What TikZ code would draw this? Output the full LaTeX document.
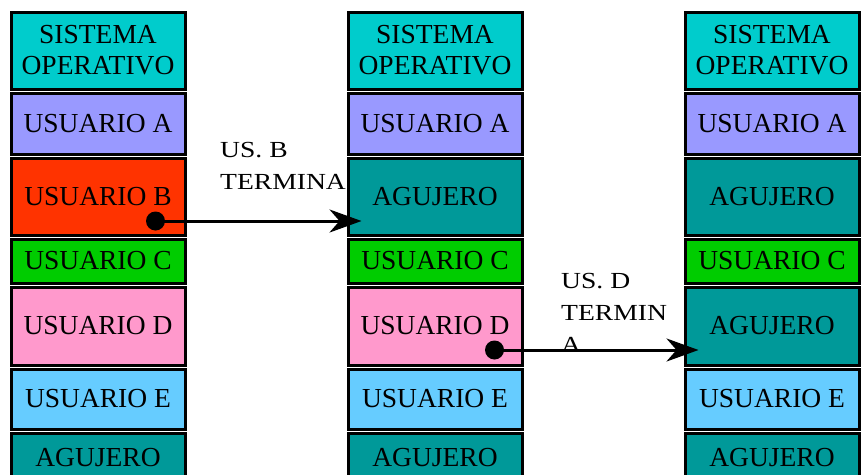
\documentclass[tikz,border=0pt]{standalone}
\usepackage{fontspec}
\setmainfont{Liberation Serif}
\newfontfamily\labelfont[FakeStretch=1.2]{Liberation Serif}
\usetikzlibrary{positioning, arrows.meta, calc}
\definecolor{socyan}{RGB}{0, 204, 204}
\definecolor{usra}{RGB}{153, 153, 255}
\definecolor{usrb}{RGB}{255, 51, 0}
\definecolor{usrc}{RGB}{0, 204, 0}
\definecolor{usrd}{RGB}{255, 153, 204}
\definecolor{usre}{RGB}{102, 204, 255}
\definecolor{hueco}{RGB}{0, 153, 153}
\tikzset{
  mem/.style={draw, line width=3pt, minimum width=174pt, inner sep=0pt, align=center,
    font=\fontsize{27.5}{31}\selectfont},
  lbl/.style={inner sep=0pt, align=left, anchor=north west, font=\labelfont\fontsize{23}{32}\selectfont},
  flecha/.style={line width=3pt, -{Stealth[length=32pt, width=23pt, inset=10pt]}}
}

\begin{document}
\begin{tikzpicture}[x=1pt, y=-1pt, node distance=1pt]
    \clip (0,0) rectangle (861,474);

    % memoria inicial
    \node[mem, fill=socyan, minimum height=77pt] (so1) at (98,50.5) {SISTEMA\\OPERATIVO};
    \node[mem, fill=usra, minimum height=61pt, below=of so1] (ua1) {USUARIO A};
    \node[mem, fill=usrb, minimum height=77pt, below=of ua1] (ub1) {USUARIO B};
    \node[mem, fill=usrc, minimum height=44pt, below=of ub1] (uc1) {USUARIO C};
    \node[mem, fill=usrd, minimum height=78pt, below=of uc1] (ud1) {USUARIO D};
    \node[mem, fill=usre, minimum height=60pt, below=of ud1] (ue1) {USUARIO E};
    \node[mem, fill=hueco, minimum height=49pt, below=of ue1] (ag1) {AGUJERO};

    % termina B
    \node[mem, fill=socyan, minimum height=77pt, right=160pt of so1] (so2) {SISTEMA\\OPERATIVO};
    \node[mem, fill=usra, minimum height=61pt, below=of so2] (ua2) {USUARIO A};
    \node[mem, fill=hueco, minimum height=77pt, below=of ua2] (agb2) {AGUJERO};
    \node[mem, fill=usrc, minimum height=44pt, below=of agb2] (uc2) {USUARIO C};
    \node[mem, fill=usrd, minimum height=78pt, below=of uc2] (ud2) {USUARIO D};
    \node[mem, fill=usre, minimum height=60pt, below=of ud2] (ue2) {USUARIO E};
    \node[mem, fill=hueco, minimum height=49pt, below=of ue2] (ag2) {AGUJERO};

    % termina D
    \node[mem, fill=socyan, minimum height=77pt, right=160pt of so2] (so3) {SISTEMA\\OPERATIVO};
    \node[mem, fill=usra, minimum height=61pt, below=of so3] (ua3) {USUARIO A};
    \node[mem, fill=hueco, minimum height=77pt, below=of ua3] (agb3) {AGUJERO};
    \node[mem, fill=usrc, minimum height=44pt, below=of agb3] (uc3) {USUARIO C};
    \node[mem, fill=hueco, minimum height=78pt, below=of uc3] (agd3) {AGUJERO};
    \node[mem, fill=usre, minimum height=60pt, below=of agd3] (ue3) {USUARIO E};
    \node[mem, fill=hueco, minimum height=49pt, below=of ue3] (ag3) {AGUJERO};

    % flechas
    \coordinate (pb) at ($(ub1.east)+(-31pt,-24.5pt)$);
    \coordinate (qb) at ($(agb2.west |- pb)+(15pt,0pt)$);
    \coordinate (pd) at ($(ud2.east)+(-29pt,-24pt)$);
    \coordinate (qd) at ($(agd3.west |- pd)+(15pt,0pt)$);
    \fill (pb) circle (9.5pt);
    \fill (pd) circle (9.5pt);
    \draw[flecha] (pb) -- (qb);
    \draw[flecha] (pd) -- (qd);

    \node[lbl] (tb) at (220,142) {US. B\\TERMINA};
    \node[lbl] (td) at (561,273) {US. D\\TERMIN\\A};
\end{tikzpicture}
\end{document}
